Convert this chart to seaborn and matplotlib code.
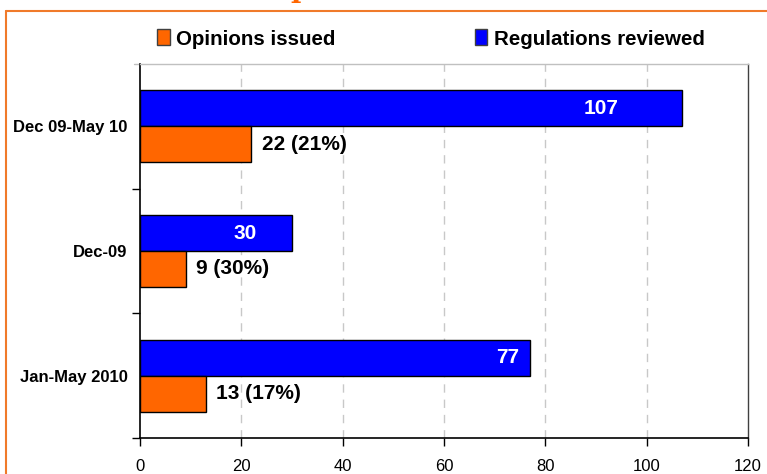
import matplotlib
matplotlib.use("Agg")
import matplotlib.pyplot as plt
import matplotlib.patches as mpatches
from matplotlib.lines import Line2D
import seaborn as sns
import pandas as pd

categories = ["Dec 09-May 10", "Dec-09", "Jan-May 2010"]
regulations_reviewed = [107, 30, 77]
opinions_issued = [22, 9, 13]
opinion_labels = ["22 (21%)", "9 (30%)", "13 (17%)"]
series_names = ["Regulations reviewed", "Opinions issued"]
x_ticks = [0, 20, 40, 60, 80, 100, 120]

BLUE = "#0000FF"
ORANGE = "#FF6600"
FRAME = "#F07A2A"

df = pd.DataFrame({
    "category": categories * 2,
    "value": regulations_reviewed + opinions_issued,
    "series": [series_names[0]] * 3 + [series_names[1]] * 3,
})

sns.set_theme(style="white")
plt.rcParams["font.family"] = ["Liberation Sans", "DejaVu Sans"]
plt.rcParams["text.color"] = "black"
plt.rcParams["xtick.color"] = "black"
plt.rcParams["ytick.color"] = "black"

fig = plt.figure(figsize=(7.67, 4.74), dpi=100)
ax = fig.add_axes([140 / 767, 1 - 438 / 474, 608 / 767, 374 / 474])

sns.barplot(data=df, y="category", x="value", hue="series", order=categories,
            hue_order=series_names, palette=[BLUE, ORANGE], orient="h",
            width=0.575, edgecolor="black", linewidth=1.0, saturation=1,
            legend=False, ax=ax)

ax.set_xlim(0, 120)
ax.set_ylim(2.5, -0.5)
ax.set_xticks(x_ticks)
ax.set_xticklabels([str(t) for t in x_ticks], fontsize=12)
ax.set_xlabel("")
ax.set_ylabel("")
ax.set_yticks(range(len(categories)))
ax.set_yticklabels(categories, fontsize=12, fontweight="bold")
ax.tick_params(axis="y", which="major", left=True, length=0, pad=9)
ax.set_yticks([0.5, 1.5, 2.5], minor=True)
ax.tick_params(axis="y", which="minor", left=True, length=6, width=1, color="black", direction="out")
ax.tick_params(axis="x", which="major", bottom=True, length=6, width=1, color="black",
               direction="out", pad=9)
# grey tick at the top-left corner
ax.plot([-1.2, 0], [-0.5, -0.5], color="#C0C0C0", linewidth=1, clip_on=False)

for x in x_ticks[1:-1]:
    ax.axvline(x, color="#C8C8C8", linestyle=(0, (6, 5)), linewidth=1, zorder=0)

for side in ["left", "bottom"]:
    ax.spines[side].set_color("black")
    ax.spines[side].set_linewidth(1.2)
ax.spines["right"].set_color("#404040")
ax.spines["right"].set_linewidth(1)
ax.spines["top"].set_color("#C0C0C0")
ax.spines["top"].set_linewidth(1)

# value labels
bar_off = 0.575 / 4
blue_label_x = [91, 20.7, 72.6]
for i, (r, o, lab) in enumerate(zip(regulations_reviewed, opinions_issued, opinion_labels)):
    ax.text(blue_label_x[i], i - bar_off, str(r), color="white", fontsize=15,
            fontweight="bold", ha="center", va="center")
    ax.text(o + 2, i + bar_off, lab, color="black", fontsize=15,
            fontweight="bold", ha="left", va="center")

# legend
handles = [mpatches.Patch(facecolor=ORANGE, edgecolor="#404040", label="Opinions issued"),
           mpatches.Patch(facecolor=BLUE, edgecolor="#404040", label="Regulations reviewed")]
fig.legend(handles=handles, loc="center", bbox_to_anchor=(431 / 767, 1 - 39 / 474),
           ncol=2, frameon=False, prop={"size": 14.8, "weight": "bold"},
           handlelength=0.6, handleheight=0.8, handletextpad=0.3, columnspacing=6.8)

# orange frame and clipped title fragment
fig.add_artist(Line2D([6 / 767, 1.0], [1 - 11 / 474, 1 - 11 / 474], color=FRAME,
                      linewidth=1.5, transform=fig.transFigure))
fig.add_artist(Line2D([6 / 767, 6 / 767], [0, 1 - 11 / 474], color=FRAME,
                      linewidth=1.5, transform=fig.transFigure))
fig.text(300 / 767, 1 + 3 / 474, "p", color=ORANGE, fontsize=20, fontweight="bold",
         family="DejaVu Serif", ha="center", va="baseline")

fig.savefig("out.png", dpi=100)
